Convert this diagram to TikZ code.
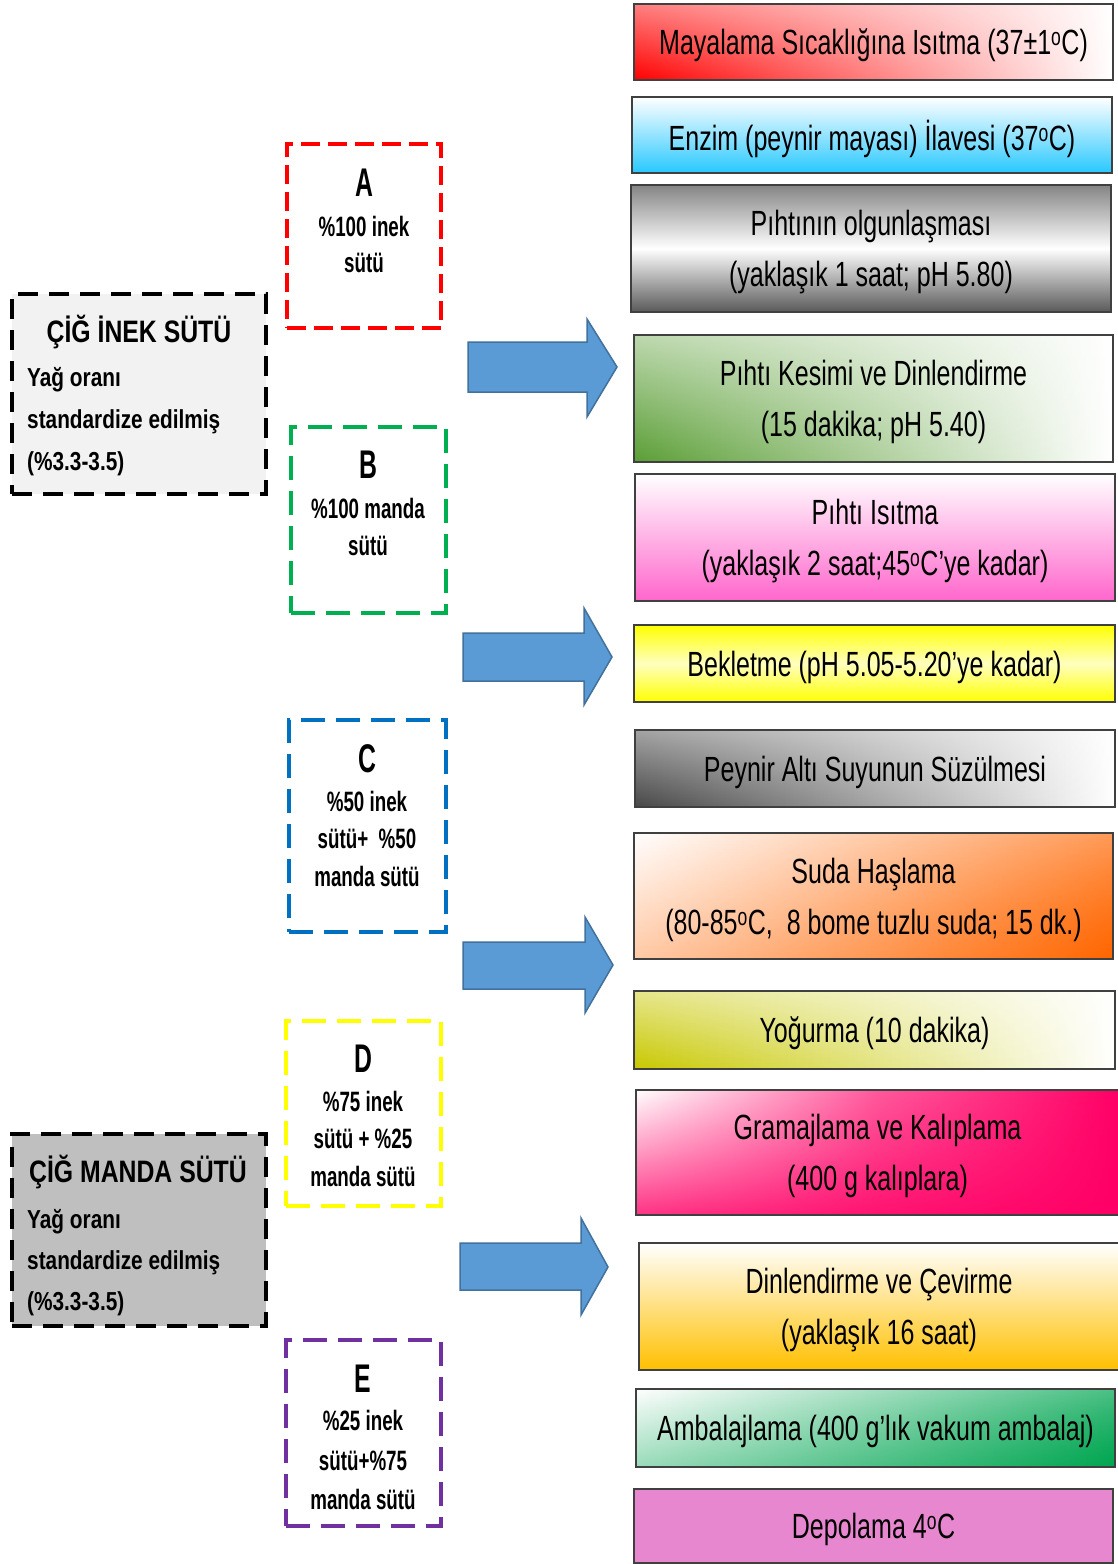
\documentclass[tikz,border=0pt]{standalone}
\usepackage{fontspec}
\usetikzlibrary{fadings}
\setmainfont{Liberation Sans}
\newfontfamily\rfont{Liberation Sans}[FakeStretch=0.715]
\newfontfamily\lfont{Liberation Sans}[FakeStretch=0.8]
\newfontfamily\mfont{Liberation Sans}[FakeStretch=0.67]
\newfontfamily\letfont{Liberation Sans}[FakeStretch=0.62]
\newcommand{\dg}{\textsuperscript{o}}
\definecolor{cred}{RGB}{255,0,0}
\definecolor{ccyan}{RGB}{40,200,255}
\definecolor{cgreen}{RGB}{90,158,53}
\definecolor{cpink}{RGB}{255,102,204}
\definecolor{cyel}{RGB}{255,255,0}
\definecolor{corange}{RGB}{255,102,0}
\definecolor{colive}{RGB}{200,200,0}
\definecolor{cmag}{RGB}{255,0,102}
\definecolor{cgold}{RGB}{255,192,0}
\definecolor{cgreentwo}{RGB}{0,166,81}
\definecolor{corchid}{RGB}{231,135,208}
\definecolor{mred}{RGB}{255,0,0}
\definecolor{mgreen}{RGB}{0,176,80}
\definecolor{mblue}{RGB}{0,112,192}
\definecolor{myellow}{RGB}{255,255,0}
\definecolor{mpurple}{RGB}{112,48,160}
\definecolor{afill}{RGB}{91,155,213}
\definecolor{aline}{RGB}{65,113,156}
\tikzfading[name=fromtop, top color=transparent!0, bottom color=transparent!100]
\tikzfading[name=frombottom, top color=transparent!100, bottom color=transparent!0]
\begin{document}
\begin{tikzpicture}[x=1pt,y=-1pt,
  rbox/.style={draw=black!75, line width=1.6pt, inner sep=0pt, align=center, text depth=0pt,
     font=\rfont\fontsize{35}{51}\selectfont},
  tints/.style n args={4}{path picture={
     \fill[#1, fill opacity=#2, path fading=fromtop] (path picture bounding box.south west) rectangle (path picture bounding box.north east);
     \fill[#3, fill opacity=#4, path fading=frombottom] (path picture bounding box.south west) rectangle (path picture bounding box.north east);}},
  srcbox/.style={draw=black, line width=4.5pt, dash pattern=on 20pt off 11pt, inner sep=0pt, minimum width=254pt},
  srctitle/.style={anchor=base, inner sep=0pt, font=\lfont\bfseries\fontsize{31}{31}\selectfont},
  srcline/.style={anchor=base west, inner sep=0pt, font=\lfont\bfseries\fontsize{26}{26}\selectfont},
  mixbox/.style={line width=3.4pt, dash pattern=on 24pt off 11pt, inner sep=0pt},
  mixletter/.style={anchor=base, inner sep=0pt, font=\letfont\bfseries\fontsize{40}{40}\selectfont},
  mixline/.style={anchor=base, inner sep=0pt, font=\mfont\bfseries\fontsize{28}{28}\selectfont},
  bigarrow/.style={fill=afill, draw=aline, line width=1.5pt, line join=miter},
]
\fill[white] (0,0) rectangle (1117,1564);
\useasboundingbox (0,0) rectangle (1117,1564);

% source boxes
\node[srcbox, fill=black!5, minimum height=200pt] (inek) at (139,394) {};
\node[srctitle] (inekt) at (139,342) {ÇİĞ İNEK SÜTÜ};
\node[srcline] (inek1) at (27,386) {Yağ oranı};
\node[srcline] (inek2) at (27,428) {standardize edilmiş};
\node[srcline] (inek3) at (27,470) {(\%3.3-3.5)};

\node[srcbox, fill=black!25, minimum height=192pt] (manda) at (139,1230) {};
\node[srctitle] (mandat) at (138,1182) {ÇİĞ MANDA SÜTÜ};
\node[srcline] (manda1) at (27,1228) {Yağ oranı};
\node[srcline] (manda2) at (27,1269) {standardize edilmiş};
\node[srcline] (manda3) at (27,1310) {(\%3.3-3.5)};

% mixture boxes
\node[mixbox, draw=mred, dash pattern=on 19pt off 8pt, minimum width=154pt, minimum height=184pt] (A) at (364,236) {};
\node[mixletter] (Al) at (364,196) {A};
\node[mixline] (A1) at (364,236) {\%100 inek};
\node[mixline] (A2) at (364,272) {sütü};

\node[mixbox, draw=mgreen, minimum width=155pt, minimum height=186pt] (B) at (368.5,520) {};
\node[mixletter] (Bl) at (368,478) {B};
\node[mixline] (B1) at (368,518) {\%100 manda};
\node[mixline] (B2) at (368,555) {sütü};

\node[mixbox, draw=mblue, minimum width=157pt, minimum height=212pt] (C) at (367.5,826) {};
\node[mixletter] (Cl) at (367,772) {C};
\node[mixline] (C1) at (367,811) {\%50 inek};
\node[mixline] (C2) at (367,848) {sütü+\ \ \%50};
\node[mixline] (C3) at (367,886) {manda sütü};

\node[mixbox, draw=myellow, minimum width=155pt, minimum height=185pt] (D) at (363.5,1113.5) {};
\node[mixletter] (Dl) at (363,1072) {D};
\node[mixline] (D1) at (363,1111) {\%75 inek};
\node[mixline] (D2) at (363,1148) {sütü + \%25};
\node[mixline] (D3) at (363,1186) {manda sütü};

\node[mixbox, draw=mpurple, minimum width=155pt, minimum height=186pt] (E) at (363.5,1433) {};
\node[mixletter] (El) at (363,1392) {E};
\node[mixline] (E1) at (363,1430) {\%25 inek};
\node[mixline] (E2) at (363,1470) {sütü+\%75};
\node[mixline] (E3) at (363,1509) {manda sütü};

% arrows
\draw[bigarrow] (468,342) -- (587,342) -- (587,319) -- (617,367) -- (587,417) -- (587,392) -- (468,392) -- cycle;
\draw[bigarrow] (463,633) -- (584,633) -- (584,608) -- (612,657) -- (584,705) -- (584,681) -- (463,681) -- cycle;
\draw[bigarrow] (463,942) -- (585,942) -- (585,917) -- (613,965) -- (585,1013) -- (585,989) -- (463,989) -- cycle;
\draw[bigarrow] (460,1243) -- (581,1243) -- (581,1218) -- (608,1267) -- (581,1315) -- (581,1290) -- (460,1290) -- cycle;

% process steps
\node[rbox, minimum width=479pt, minimum height=76pt, left color=cred, right color=white, tints={white}{0.5}{white}{0}] (s1) at (873.5,42) {Mayalama Sıcaklığına Isıtma (37±1\dg C)};
\node[rbox, minimum width=480pt, minimum height=76pt, top color=white, bottom color=ccyan] (s2) at (872,135) {Enzim (peynir mayası) İlavesi (37\dg C)};
\node[rbox, minimum width=480pt, minimum height=127pt, top color=black!48, bottom color=black!65, middle color=white] (s3) at (871,248.5) {Pıhtının olgunlaşması\\(yaklaşık 1 saat; pH 5.80)};
\node[rbox, minimum width=479pt, minimum height=127pt, left color=cgreen, right color=white, tints={white}{0.6}{white}{0}] (s4) at (873.5,398.5) {Pıhtı Kesimi ve Dinlendirme\\(15 dakika; pH 5.40)};
\node[rbox, minimum width=480pt, minimum height=127pt, top color=white, bottom color=cpink] (s5) at (875,537.5) {Pıhtı Isıtma\\(yaklaşık 2 saat;45\dg C’ye kadar)};
\node[rbox, minimum width=481pt, minimum height=77pt, top color=cyel, bottom color=cyel, middle color=cyel!25] (s6) at (874.5,663.5) {Bekletme (pH 5.05-5.20’ye kadar)};
\node[rbox, minimum width=480pt, minimum height=77pt, left color=black!72, right color=white, tints={white}{0.5}{white}{0}] (s7) at (875,768.5) {Peynir Altı Suyunun Süzülmesi};
\node[rbox, minimum width=479pt, minimum height=126pt, left color=white, right color=corange, tints={white}{0.35}{corange}{0.35}] (s8) at (873.5,896) {Suda Haşlama\\(80-85\dg C,\ \ 8 bome tuzlu suda; 15 dk.)};
\node[rbox, minimum width=481pt, minimum height=78pt, left color=colive, right color=white, tints={white}{0.55}{white}{0}] (s9) at (874.5,1030) {Yoğurma (10 dakika)};
\node[rbox, minimum width=483pt, minimum height=125pt, left color=white, right color=cmag, middle color=cmag!65!white, tints={white}{0}{cmag}{0.8}] (s10) at (877.5,1152.5) {Gramajlama ve Kalıplama\\(400 g kalıplara)};
\node[rbox, minimum width=480pt, minimum height=127pt, top color=white, bottom color=cgold] (s11) at (879,1306.5) {Dinlendirme ve Çevirme\\(yaklaşık 16 saat)};
\node[rbox, minimum width=479pt, minimum height=78pt, left color=white, right color=cgreentwo, tints={white}{0.3}{cgreentwo}{0.4}] (s12) at (875.5,1428) {Ambalajlama (400 g’lık vakum ambalaj)};
\node[rbox, minimum width=479pt, minimum height=74pt, fill=corchid] (s13) at (873.5,1526) {Depolama 4\dg C};
\end{tikzpicture}
\end{document}
